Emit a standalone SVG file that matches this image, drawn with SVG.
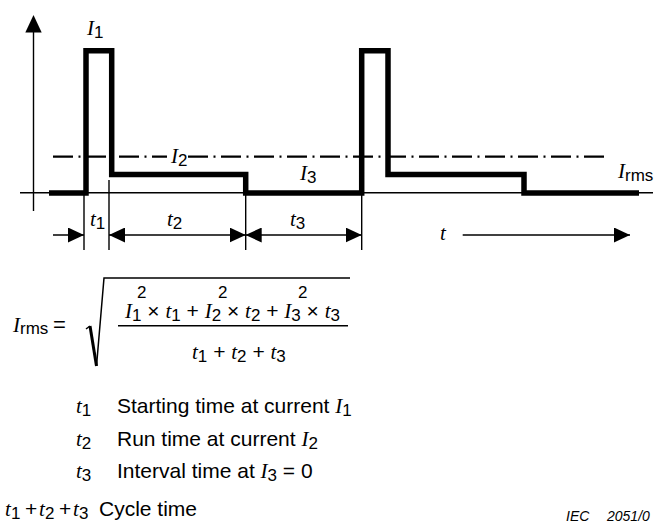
<svg xmlns="http://www.w3.org/2000/svg" width="655" height="523" viewBox="0 0 655 523">
<style>
.m{font-family:"Liberation Serif","Times New Roman",serif;font-style:italic;font-size:21px;fill:#000;white-space:pre}
.s{font-family:"Liberation Sans",Arial,sans-serif;font-style:normal;font-size:17px}
.n{font-family:"Liberation Sans",Arial,sans-serif;font-style:normal;font-size:21px}
.t{font-family:"Liberation Sans",Arial,sans-serif;font-size:21px;fill:#000;white-space:pre}
.thin{fill:none;stroke:#000;stroke-width:1.4}
.dim{fill:none;stroke:#000;stroke-width:1.5}
</style>
<defs>
<marker id="ah" viewBox="0 0 16 15" refX="16" refY="7.5" markerWidth="16" markerHeight="15" markerUnits="userSpaceOnUse" orient="auto-start-reverse">
<path d="M0,0 L16,7.5 L0,15 Z" fill="#000"/>
</marker>
</defs>
<rect width="655" height="523" fill="#fff"/>
<g id="axes">
<path class="thin" d="M33.5,211 V30"/>
<path d="M33.5,15 L25.3,32.5 L41.7,32.5 Z" fill="#000"/>
<path class="thin" d="M20,192.7 H653"/>
</g>
<g id="rms-line">
<path d="M53,156.7 H167 M188,156.7 H605" fill="none" stroke="#000" stroke-width="2.3" stroke-dasharray="20 5.5 2 5.5"/>
</g>
<g id="waveform">
<path d="M49,193 H86 V50.8 H111.7 V174.5 H245.7 V193 H361.7 V50.8 H388 V174.5 H524 V193 H639" fill="none" stroke="#000" stroke-width="5.5" stroke-linejoin="miter"/>
</g>
<g id="connectors">
<path class="thin" d="M84,193 V250 M109,180 V250 M245.7,193 V250 M361.7,193 V250"/>
<path class="dim" d="M53,235 H84" marker-end="url(#ah)"/>
<path class="dim" d="M109,235 H245.7" marker-start="url(#ah)" marker-end="url(#ah)"/>
<path class="dim" d="M245.7,235 H361.7" marker-start="url(#ah)" marker-end="url(#ah)"/>
<path class="dim" d="M462.7,235 H630" marker-end="url(#ah)"/>
</g>
<g id="chart-labels">
<text class="m" x="87" y="35">I<tspan class="s" dy="3">1</tspan></text>
<text class="m" x="171" y="163">I<tspan class="s" dy="3">2</tspan></text>
<text class="m" x="300" y="180">I<tspan class="s" dy="3">3</tspan></text>
<text class="m" x="618" y="178">I<tspan class="s" dy="3">rms</tspan></text>
<text class="m" x="90" y="226">t<tspan class="s" dy="3">1</tspan></text>
<text class="m" x="167" y="226">t<tspan class="s" dy="3">2</tspan></text>
<text class="m" x="290" y="226">t<tspan class="s" dy="3">3</tspan></text>
<text class="m" x="440" y="240">t</text>
</g>
<g id="formula">
<text class="m" x="13" y="332">I<tspan class="s" dy="2">rms</tspan></text>
<text class="n" x="53" y="332" style="font-size:22px">=</text>
<path d="M86,329 L90,326" fill="none" stroke="#000" stroke-width="1.5"/>
<path d="M90,326 L96.5,366" fill="none" stroke="#000" stroke-width="3"/>
<path d="M96.5,366 L104,278 H350" fill="none" stroke="#000" stroke-width="1.5"/>
<path d="M118,325.7 H348" fill="none" stroke="#000" stroke-width="1.5"/>
<text class="m" x="125" y="318">I<tspan class="s" dy="3">1</tspan><tspan class="n" dy="-3"> × </tspan>t<tspan class="s" dy="3">1</tspan><tspan class="n" dy="-3"> + </tspan>I<tspan class="s" dy="3">2</tspan><tspan class="n" dy="-3"> × </tspan>t<tspan class="s" dy="3">2</tspan><tspan class="n" dy="-3"> + </tspan>I<tspan class="s" dy="3">3</tspan><tspan class="n" dy="-3"> × </tspan>t<tspan class="s" dy="3">3</tspan></text>
<text class="s" x="137" y="298">2</text>
<text class="s" x="218" y="298">2</text>
<text class="s" x="298" y="298">2</text>
<text class="m" x="192" y="359">t<tspan class="s" dy="3">1</tspan><tspan class="n" dy="-3"> + </tspan>t<tspan class="s" dy="3">2</tspan><tspan class="n" dy="-3"> + </tspan>t<tspan class="s" dy="3">3</tspan></text>
</g>
<g id="legend">
<text class="m" x="76" y="413">t<tspan class="s" dy="3">1</tspan></text>
<text class="t" x="117" y="413">Starting time at current <tspan class="m">I</tspan><tspan class="s" dy="3">1</tspan></text>
<text class="m" x="76" y="446">t<tspan class="s" dy="3">2</tspan></text>
<text class="t" x="117" y="446">Run time at current <tspan class="m">I</tspan><tspan class="s" dy="3">2</tspan></text>
<text class="m" x="76" y="478">t<tspan class="s" dy="3">3</tspan></text>
<text class="t" x="117" y="478">Interval time at <tspan class="m">I</tspan><tspan class="s" dy="3">3</tspan><tspan dy="-3"> = 0</tspan></text>
<text class="m" x="5" y="516">t<tspan class="s" x="11" dy="3">1</tspan><tspan class="n" x="25" dy="-3">+</tspan><tspan x="39">t</tspan><tspan class="s" x="45" dy="3">2</tspan><tspan class="n" x="59" dy="-3">+</tspan><tspan x="73">t</tspan><tspan class="s" x="79" dy="3">3</tspan></text>
<text class="t" x="99" y="516">Cycle time</text>
<text x="566" y="521" style="font-family:'Liberation Sans',Arial,sans-serif;font-style:italic;font-size:14px">IEC<tspan x="607">2051/0</tspan></text>
</g>
</svg>
